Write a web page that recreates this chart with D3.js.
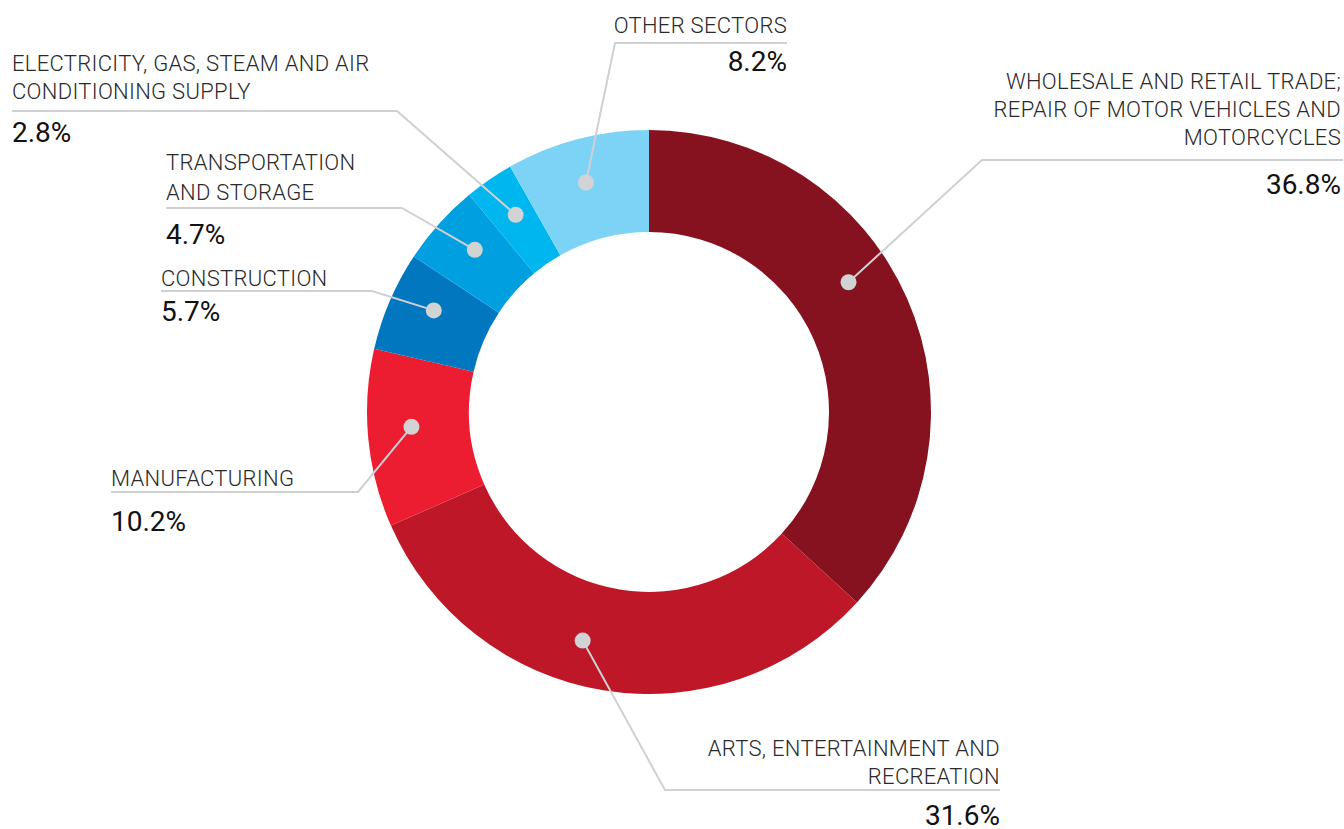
<!DOCTYPE html>
<html>
<head>
<meta charset="utf-8">
<script src="https://cdn.jsdelivr.net/npm/d3@7"></script>
<style>
  html, body { margin: 0; padding: 0; background: #ffffff; }
  svg { display: block; }
</style>
</head>
<body>
<svg id="chart" width="1344" height="829"></svg>
<script>
// ---- data ----
const categories = [
  "WHOLESALE AND RETAIL TRADE;|REPAIR OF MOTOR VEHICLES AND|MOTORCYCLES",
  "ARTS, ENTERTAINMENT AND|RECREATION",
  "MANUFACTURING",
  "CONSTRUCTION",
  "TRANSPORTATION|AND STORAGE",
  "ELECTRICITY, GAS, STEAM AND AIR|CONDITIONING SUPPLY",
  "OTHER SECTORS"
];
const shares = [36.8, 31.6, 10.2, 5.7, 4.7, 2.8, 8.2];
const valueLabels = ["36.8%", "31.6%", "10.2%", "5.7%", "4.7%", "2.8%", "8.2%"];
const colors = ["#86121f", "#be1828", "#ec1c31", "#0077bf", "#00a0e0", "#00b6ef", "#7dd3f6"];

// ---- layout (label placement only) ----
const labelLayout = [
  {anchor: "end",   x: 1341, lines: [89, 117, 145], rule: 160, ruleFrom: 1343, ruleTo: 982, pct: 194, dotFrac: 0.43},
  {anchor: "end",   x: 1000, lines: [756, 784],      rule: 790, ruleFrom: 1000, ruleTo: 665, pct: 825, dotFrac: 0.56},
  {anchor: "start", x: 111,  lines: [486],           rule: 492, ruleFrom: 111,  ruleTo: 358, pct: 531, dotFrac: 0.55},
  {anchor: "start", x: 161,  lines: [286],           rule: 291, ruleFrom: 161,  ruleTo: 372, pct: 321, dotFrac: 0.6},
  {anchor: "start", x: 166,  lines: [170, 200],      rule: 208, ruleFrom: 166,  ruleTo: 402, pct: 244, dotFrac: 0.56},
  {anchor: "start", x: 12,   lines: [71, 99],        rule: 111, ruleFrom: 12,   ruleTo: 397, pct: 142, dotFrac: 0.55},
  {anchor: "end",   x: 787,  lines: [33],            rule: 43,  ruleFrom: 787,  ruleTo: 615, pct: 71,  dotFrac: 0.48}
];

const cx = 649, cy = 412, rOuter = 282, rInner = 180, rDot = 238;

const svg = d3.select("#chart");
const g = svg.append("g").attr("transform", `translate(${cx},${cy})`);

const pie = d3.pie().sort(null).value(d => d)(shares);
const arc = d3.arc().innerRadius(rInner).outerRadius(rOuter);

g.selectAll("path.slice")
  .data(pie)
  .join("path")
  .attr("class", "slice")
  .attr("d", arc)
  .attr("fill", (d, i) => colors[i]);

// leaders and labels
const lab = svg.append("g");
pie.forEach((d, i) => {
  const L = labelLayout[i];
  const a = d.startAngle + (d.endAngle - d.startAngle) * L.dotFrac;
  const dx = cx + rDot * Math.sin(a);
  const dy = cy - rDot * Math.cos(a);
  lab.append("path")
    .attr("d", `M${L.ruleFrom},${L.rule}H${L.ruleTo}L${dx},${dy}`)
    .attr("fill", "none")
    .attr("stroke", "#cfd0d2")
    .attr("stroke-width", 2);
  lab.append("circle")
    .attr("cx", dx).attr("cy", dy).attr("r", 8)
    .attr("fill", "#d1d3d4");
  const lines = categories[i].split("|");
  lines.forEach((t, k) => {
    lab.append("text")
      .attr("x", L.x).attr("y", L.lines[k])
      .attr("text-anchor", L.anchor)
      .attr("font-family", "Roboto, 'Open Sans', sans-serif")
      .attr("font-weight", 300)
      .attr("font-size", 22)
      .attr("letter-spacing", 0.3)
      .attr("fill", "#2a2a2a")
      .text(t);
  });
  lab.append("text")
    .attr("x", L.x).attr("y", L.pct)
    .attr("text-anchor", L.anchor)
    .attr("font-family", "Roboto, 'Open Sans', sans-serif")
    .attr("font-weight", 400)
    .attr("font-size", 28)
    .attr("fill", "#111")
    .text(valueLabels[i]);
});
</script>
</body>
</html>
